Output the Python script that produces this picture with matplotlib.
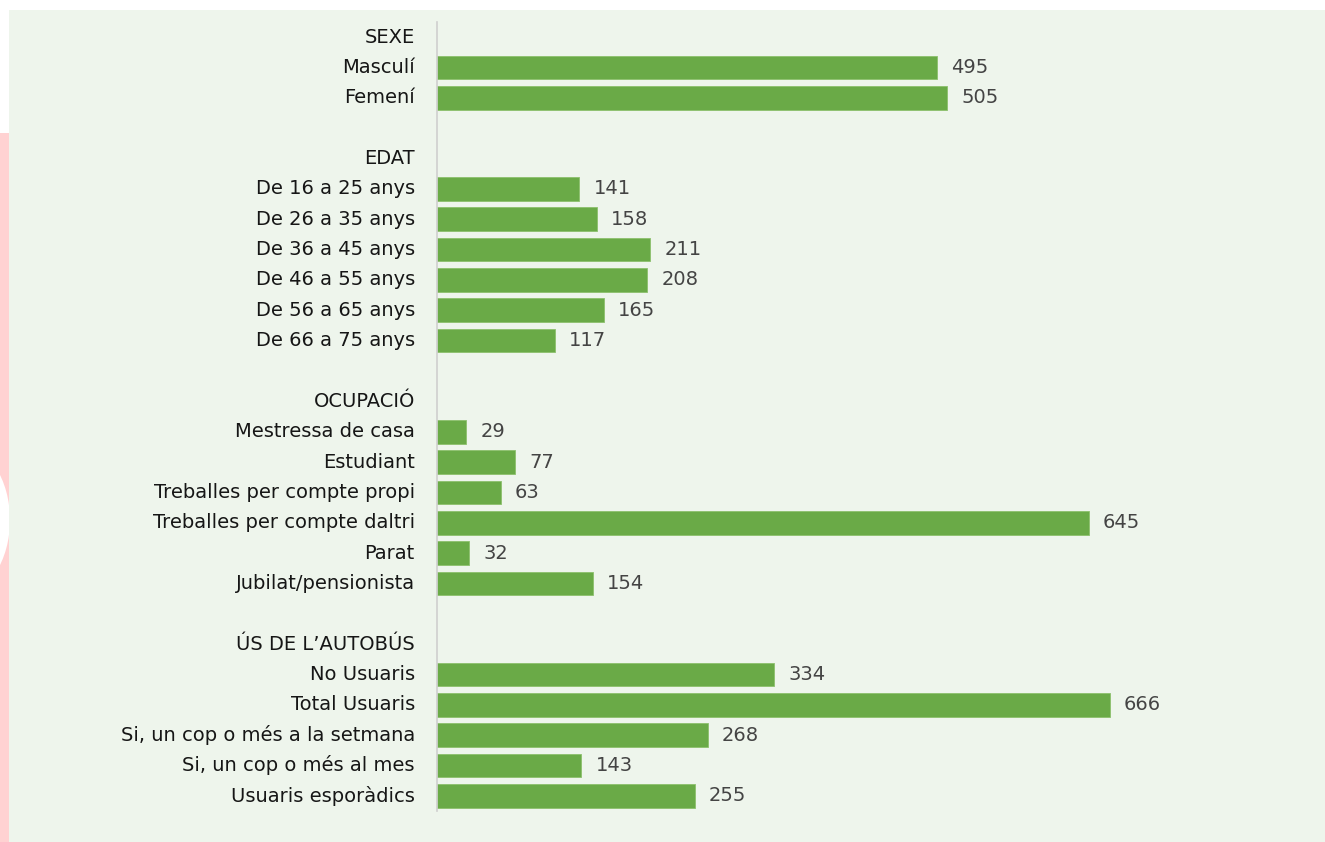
import numpy as np
import matplotlib.pyplot as plt
from matplotlib.patches import Rectangle, Ellipse

# groups of the survey, each with a header row, its items and a blank row
headers = ["SEXE", "EDAT", "OCUPACIÓ", "ÚS DE L\u2019AUTOBÚS"]
sexe_labels = ["Masculí", "Femení"]
sexe_values = [495, 505]
edat_labels = ["De 16 a 25 anys", "De 26 a 35 anys", "De 36 a 45 anys",
               "De 46 a 55 anys", "De 56 a 65 anys", "De 66 a 75 anys"]
edat_values = [141, 158, 211, 208, 165, 117]
ocup_labels = ["Mestressa de casa", "Estudiant", "Treballes per compte propi",
               "Treballes per compte daltri", "Parat", "Jubilat/pensionista"]
ocup_values = [29, 77, 63, 645, 32, 154]
us_labels = ["No Usuaris", "Total Usuaris", "Si, un cop o més a la setmana",
             "Si, un cop o més al mes", "Usuaris esporàdics"]
us_values = [334, 666, 268, 143, 255]

groups = [(sexe_labels, sexe_values), (edat_labels, edat_values),
          (ocup_labels, ocup_values), (us_labels, us_values)]

bar_color = "#6aaa47"
panel_color = "#eef5ec"
text_color = "#161616"
fs = 14

fig = plt.figure(figsize=(13.25, 8.42), dpi=100)
fig.patch.set_facecolor("white")

# pink strip at the left edge and the green panel
fig.add_artist(Rectangle((0, 0), 9 / 1325, (842 - 133) / 842, transform=fig.transFigure,
                         facecolor="#ffd2d2", edgecolor="none", zorder=0))
fig.add_artist(Ellipse((-40 / 1325, 1 - 520 / 842), 100 / 1325, 150 / 842,
                       transform=fig.transFigure, facecolor="white", edgecolor="none", zorder=0.5))
fig.add_artist(Rectangle((9 / 1325, 0), 1, (842 - 10) / 842, transform=fig.transFigure,
                         facecolor=panel_color, edgecolor="none", zorder=1))

ax = fig.add_axes([437 / 1325, 1 - 811 / 842, (1325 - 437) / 1325, (811 - 22) / 842])
ax.set_facecolor("none")
ax.set_zorder(2)

row = 0
for head, (labels, values) in zip(headers, groups):
    ax.text(-22, row, head, ha="right", va="center", fontsize=fs, color=text_color)
    row += 1
    for lab, val in zip(labels, values):
        ax.barh(row, val, height=0.78, color=bar_color, edgecolor="#8cc06c", linewidth=0.6)
        ax.text(-22, row, lab, ha="right", va="center", fontsize=fs, color=text_color)
        ax.text(val + 14, row, str(val), ha="left", va="center", fontsize=fs, color="#444444")
        row += 1
    row += 1

ax.set_xlim(0, 879)
ax.set_ylim(25.5, -0.5)
ax.set_xticks([])
ax.set_yticks([])
for s in ["top", "right", "bottom"]:
    ax.spines[s].set_visible(False)
ax.spines["left"].set_color("#cfcfcf")
ax.spines["left"].set_linewidth(1.2)

fig.savefig("out.png", dpi=100)
